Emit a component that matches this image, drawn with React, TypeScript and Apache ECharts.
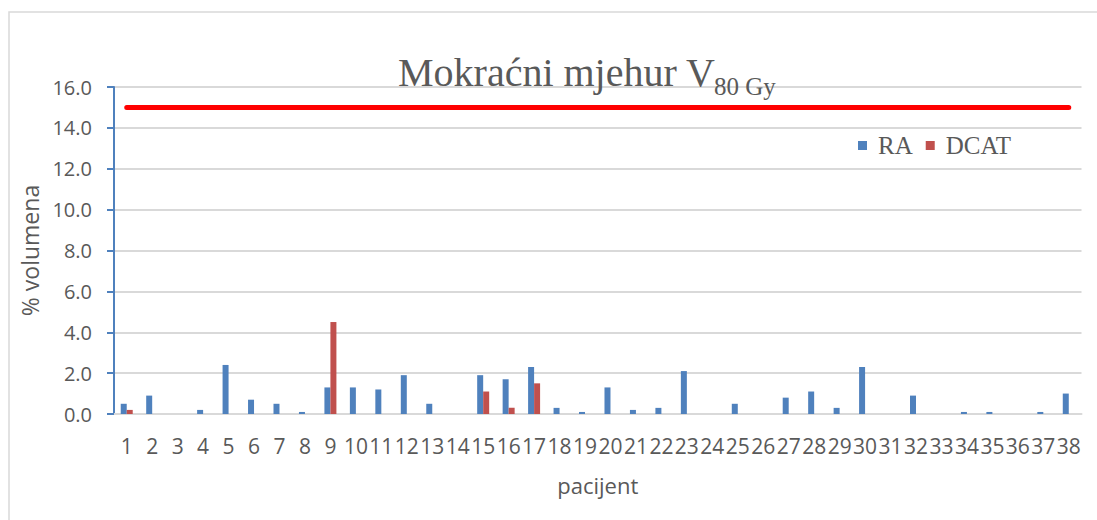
import React, { useEffect, useRef } from "react";
import * as echarts from "echarts";

const patients = Array.from({ length: 38 }, (_, i) => String(i + 1));
const raValues = [0.5, 0.9, 0, 0.2, 2.4, 0.7, 0.5, 0.1, 1.3, 1.3, 1.2, 1.9, 0.5, 0, 1.9, 1.7, 2.3, 0.3, 0.1, 1.3, 0.2, 0.3, 2.1, 0, 0.5, 0, 0.8, 1.1, 0.3, 2.3, 0, 0.9, 0, 0.1, 0.1, 0, 0.1, 1.0];
const dcatValues = [0.2, 0, 0, 0, 0, 0, 0, 0, 4.5, 0, 0, 0, 0, 0, 1.1, 0.3, 1.5, 0, 0, 0, 0, 0, 0, 0, 0, 0, 0, 0, 0, 0, 0, 0, 0, 0, 0, 0, 0, 0];
const limitValue = 15;
const limitValues = patients.map(() => limitValue);

const yMin = 0;
const yMax = 16;
const yInterval = 2;

export default function App() {
  const ref = useRef<HTMLDivElement>(null);
  useEffect(() => {
    if (!ref.current) return;
    const chart = echarts.init(ref.current, undefined, { renderer: "svg" });
    const sans = "'Open Sans', 'Noto Sans', sans-serif";
    const serif = "'Liberation Serif', 'DejaVu Serif', serif";
    chart.setOption({
      animation: false,
      backgroundColor: "#ffffff",
      graphic: [
        {
          type: "rect",
          shape: { x: 9, y: 12, width: 1100, height: 530 },
          style: { fill: "none", stroke: "#D9D9D9", lineWidth: 1.5 },
          silent: true,
          z: 0,
        },
        {
          type: "text",
          x: 398,
          y: 72,
          z: 100,
          style: {
            text: "Mokraćni mjehur V",
            font: `40px ${serif}`,
            fill: "#595959",
            verticalAlign: "middle",
            align: "left",
          },
        },
        {
          type: "text",
          x: 714,
          y: 86,
          z: 100,
          style: {
            text: "80 Gy",
            font: `25px ${serif}`,
            fill: "#595959",
            verticalAlign: "middle",
            align: "left",
          },
        },
      ],
      legend: {
        data: ["RA", "DCAT"],
        left: 858,
        top: 133,
        itemWidth: 9,
        itemHeight: 9,
        itemGap: 13,
        icon: "rect",
        padding: 0,
        textStyle: {
          fontFamily: serif,
          fontSize: 25,
          color: "#595959",
          padding: [0, 0, 0, 6],
        },
      },
      grid: { left: 114, top: 87, width: 967.5, height: 327, containLabel: false },
      xAxis: {
        type: "category",
        data: patients,
        name: "pacijent",
        nameLocation: "middle",
        nameGap: 60,
        nameTextStyle: { fontFamily: sans, fontSize: 22, color: "#595959" },
        axisLine: { lineStyle: { color: "#D9D9D9", width: 2 } },
        axisTick: { show: false },
        axisLabel: {
          interval: 0,
          margin: 21,
          fontFamily: sans,
          fontSize: 21,
          color: "#595959",
        },
      },
      yAxis: {
        type: "value",
        min: yMin,
        max: yMax,
        interval: yInterval,
        name: "% volumena",
        nameLocation: "middle",
        nameRotate: 90,
        nameGap: 73,
        nameTextStyle: { fontFamily: sans, fontSize: 23, color: "#595959" },
        axisLine: { show: true, lineStyle: { color: "#4F81BD", width: 2 } },
        axisTick: { show: true, length: 7, lineStyle: { color: "#4F81BD", width: 2 } },
        axisLabel: {
          margin: 22,
          fontFamily: sans,
          fontSize: 20,
          color: "#595959",
          formatter: (v: number) => v.toFixed(1),
        },
        splitLine: { lineStyle: { color: "#D9D9D9", width: 2 } },
      },
      series: [
        {
          name: "RA",
          type: "bar",
          data: raValues,
          barWidth: 6,
          barGap: "0%",
          itemStyle: { color: "#4F81BD" },
        },
        {
          name: "DCAT",
          type: "bar",
          data: dcatValues,
          barWidth: 6,
          barGap: "0%",
          itemStyle: { color: "#C0504D" },
        },
        {
          name: "limit",
          type: "line",
          data: limitValues,
          showSymbol: false,
          symbol: "none",
          lineStyle: { color: "#FF0000", width: 5, cap: "round" },
          itemStyle: { color: "#FF0000" },
          z: 5,
        },
      ],
    });
    return () => chart.dispose();
  }, []);
  return (
    <div
      ref={ref}
      style={{ position: "fixed", left: 0, top: 0, width: 1097, height: 520 }}
    />
  );
}
